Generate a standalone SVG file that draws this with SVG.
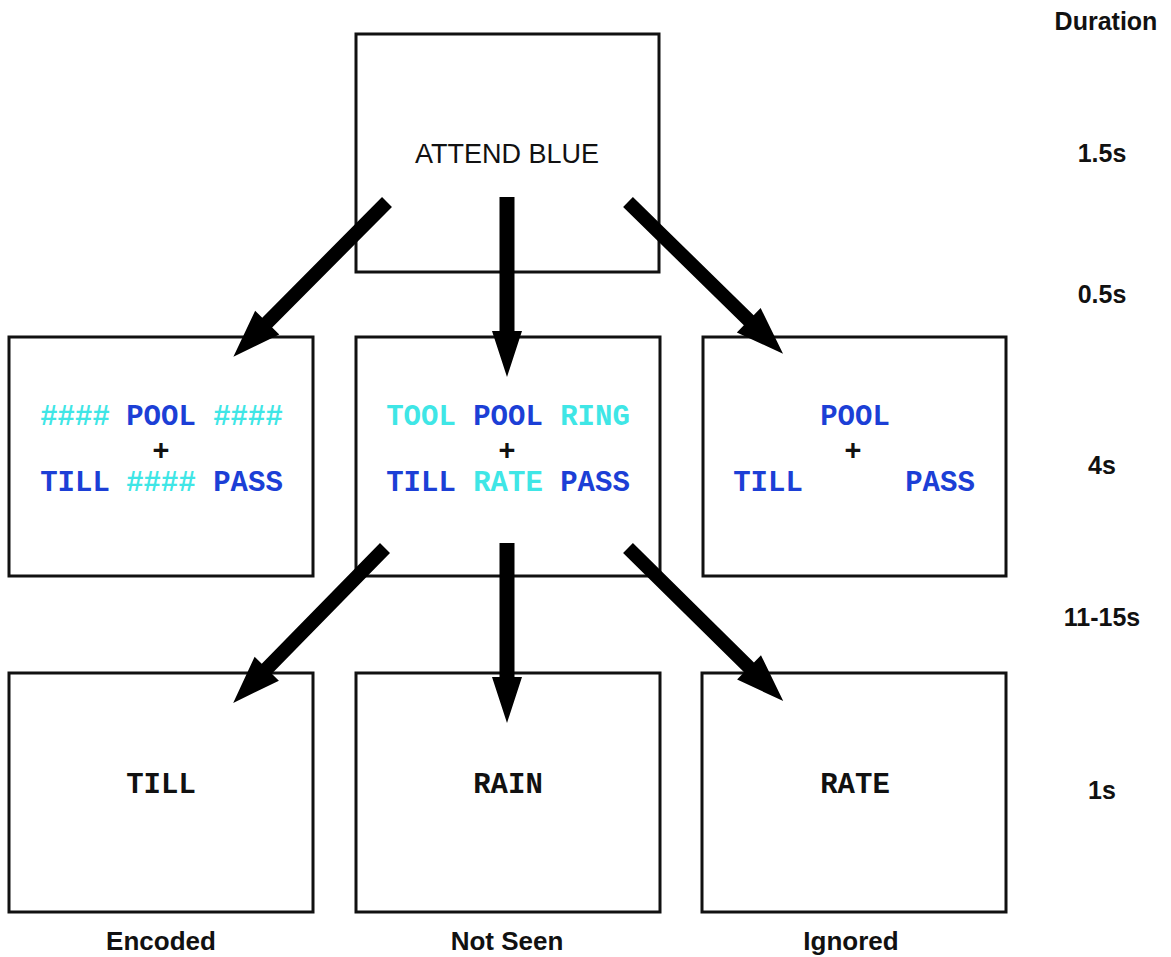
<svg xmlns="http://www.w3.org/2000/svg" width="1171" height="957" viewBox="0 0 1171 957">
<style>
.box{fill:#fff;stroke:#111;stroke-width:3}
.sans{font-family:"Liberation Sans",Arial,sans-serif;fill:#111}
.bold{font-weight:bold}
.mono{font-family:"Liberation Mono","Courier New",monospace;font-weight:bold;font-size:29px;text-anchor:middle}
.blue{fill:#1c3fd6}
.cyan{fill:#3fe6e6}
.blk{fill:#111}
.arrow{fill:#000}
</style>
<rect width="1171" height="957" fill="#fff"/>
<g id="cue">
<rect class="box" x="356" y="34" width="303" height="238"/>
<text class="sans" x="507" y="163" font-size="27" text-anchor="middle">ATTEND BLUE</text>
</g>
<g id="display-encoded">
<rect class="box" x="9" y="337" width="304" height="239"/>
<text class="mono cyan" x="75" y="425">####</text>
<text class="mono blue" x="161" y="425">POOL</text>
<text class="mono cyan" x="248" y="425">####</text>
<text class="mono blk" x="161" y="460" font-size="26">+</text>
<text class="mono blue" x="75" y="491">TILL</text>
<text class="mono cyan" x="161" y="491">####</text>
<text class="mono blue" x="248" y="491">PASS</text>
</g>
<g id="display-notseen">
<rect class="box" x="356" y="337" width="304" height="239"/>
<text class="mono cyan" x="421" y="425">TOOL</text>
<text class="mono blue" x="508" y="425">POOL</text>
<text class="mono cyan" x="595" y="425">RING</text>
<text class="mono blk" x="507" y="460" font-size="26">+</text>
<text class="mono blue" x="421" y="491">TILL</text>
<text class="mono cyan" x="508" y="491">RATE</text>
<text class="mono blue" x="595" y="491">PASS</text>
</g>
<g id="display-ignored">
<rect class="box" x="703" y="337" width="303" height="239"/>
<text class="mono blue" x="855" y="425">POOL</text>
<text class="mono blk" x="853" y="460" font-size="26">+</text>
<text class="mono blue" x="768" y="491">TILL</text>
<text class="mono blue" x="940" y="491">PASS</text>
</g>
<g id="probe-encoded">
<rect class="box" x="9" y="673" width="304" height="239"/>
<text class="mono blk" x="161" y="793" font-size="26">TILL</text>
</g>
<g id="probe-notseen">
<rect class="box" x="356" y="673" width="304" height="239"/>
<text class="mono blk" x="508" y="793" font-size="26">RAIN</text>
</g>
<g id="probe-ignored">
<rect class="box" x="702" y="673" width="304" height="239"/>
<text class="mono blk" x="855" y="793" font-size="26">RATE</text>
</g>
<g id="connectors" class="arrow">
<path transform="translate(387,202) rotate(134.8)" d="M0,-7 L170,-7 L170,-17 L218,0 L170,17 L170,7 L0,7 Z"/>
<path transform="translate(507,197) rotate(90)" d="M0,-7.5 L134,-7.5 L134,-15 L180,0 L134,15 L134,7.5 L0,7.5 Z"/>
<path transform="translate(628,202) rotate(44.4)" d="M0,-7 L169,-7 L169,-17 L217,0 L169,17 L169,7 L0,7 Z"/>
<path transform="translate(385,548) rotate(134.4)" d="M0,-7 L169,-7 L169,-17 L217,0 L169,17 L169,7 L0,7 Z"/>
<path transform="translate(507,543) rotate(90)" d="M0,-7.5 L134,-7.5 L134,-15 L180,0 L134,15 L134,7.5 L0,7.5 Z"/>
<path transform="translate(628,548) rotate(44.6)" d="M0,-7 L170,-7 L170,-17 L218,0 L170,17 L170,7 L0,7 Z"/>
</g>
<g id="durations" class="sans bold" font-size="25" text-anchor="middle">
<text x="1106" y="30">Duration</text>
<text x="1102" y="162">1.5s</text>
<text x="1102" y="303">0.5s</text>
<text x="1102" y="474">4s</text>
<text x="1102" y="626">11-15s</text>
<text x="1102" y="799">1s</text>
</g>
<g id="outcomes" class="sans bold" font-size="26" text-anchor="middle">
<text x="161" y="950">Encoded</text>
<text x="507" y="950">Not Seen</text>
<text x="851" y="950">Ignored</text>
</g>
</svg>
